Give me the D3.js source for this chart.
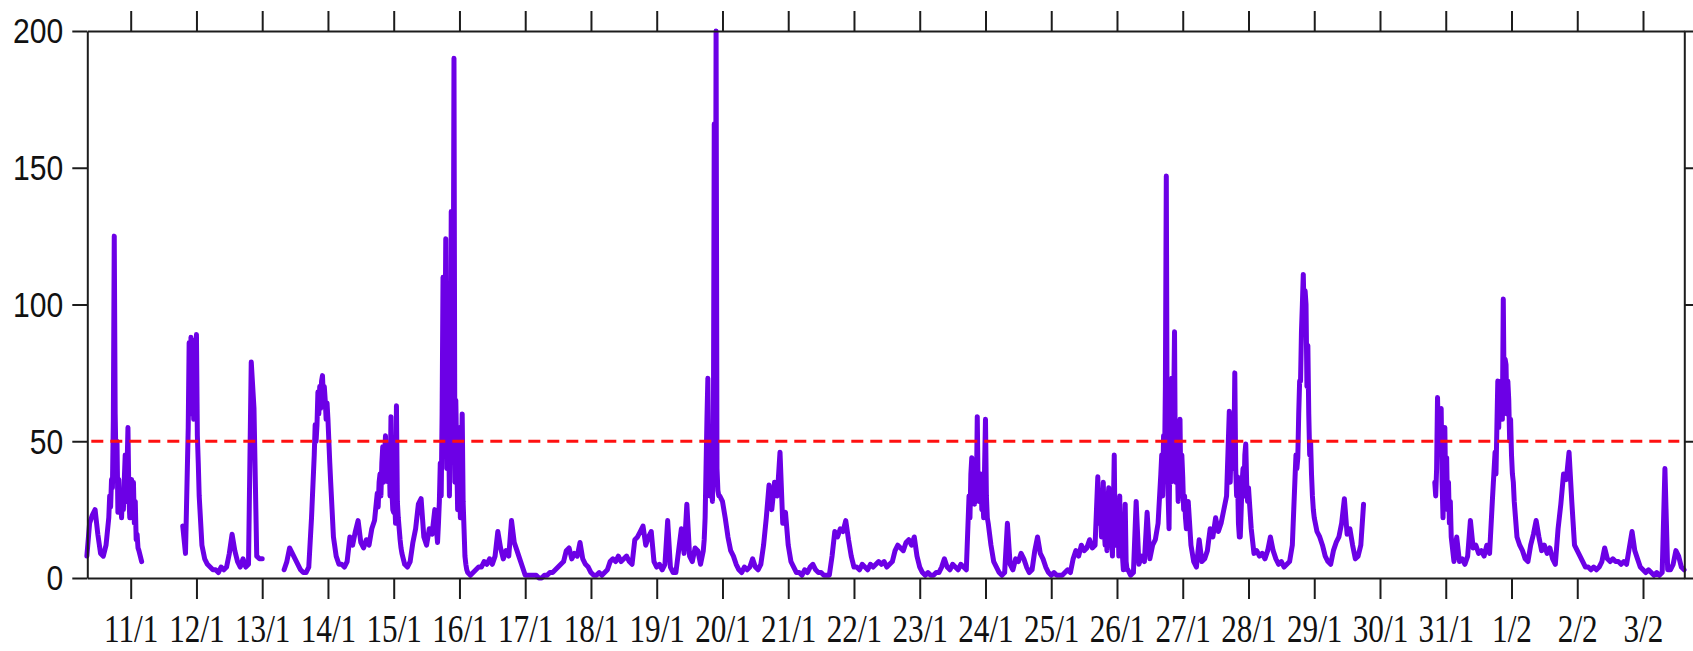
<!DOCTYPE html>
<html>
<head>
<meta charset="utf-8">
<script src="https://cdn.jsdelivr.net/npm/d3@7"></script>
<style>
  html, body { margin: 0; padding: 0; background: #fff; }
  svg { display: block; }
</style>
</head>
<body>
<svg id="chart" width="1693" height="651"></svg>
<script>
// Concentration records. Times are day-of-January (Feb 1 = day 32).
// Each record run is made of consecutive pieces: hourly values, and
// 20-minute values around the episodes.

// run 1: from 10 Jan 08:00
const r1Start = 10 + 8 / 24;
const r1a = [8, 20, 23, 25, 16, 9, 8, 12];
const r1b = [22, 30, 26, 36, 33, 58, 125, 60, 40, 50, 24, 36, 24, 30, 22, 31, 25, 36,
             45, 28, 40, 55, 30, 22, 22, 36, 24, 35, 20, 28, 14, 16, 11];
const r1c = [10, 6];

// run 2: from 11 Jan 19:00
const r2Start = 11 + 19 / 24;
const r2a = [19, 9];
const r2b = [55, 86, 60, 88, 70, 87, 58, 86, 65, 89, 52, 42];
const r2c = [30, 12, 7, 5, 4, 3, 3, 2, 4, 3, 4, 9, 16, 10, 6, 4, 7, 4, 5, 79, 62, 8, 7, 7];

// run 3: from 13 Jan 08:00
const r3Start = 13 + 8 / 24;
const r3a = [3, 6, 11, 9, 7, 5, 3, 2, 2, 4, 22];
const r3b = [45, 56, 50, 56, 68, 60, 70, 62, 72, 74, 66, 70, 65, 58, 64, 58, 50, 42];
const r3c = [35, 15, 8, 5, 5, 4, 6, 15, 12, 17, 21, 13, 11, 14, 12, 18, 21];
const r3d = [31, 26, 35, 38, 30, 42, 48, 35, 45, 52, 38, 49, 35, 44, 30, 59, 32, 25,
             24, 30, 20, 63, 28, 22, 18, 14, 11];
const r3e = [9, 5, 4, 6, 13, 18, 27, 29, 15, 12, 18, 16, 25];
const r3f = [13, 20, 28, 42, 30, 60, 110, 45, 75, 124, 40, 90, 60, 30, 55, 134, 50, 70,
             190, 35, 65, 45, 25, 55, 40, 22, 38, 60, 28, 18, 8, 5, 3];
const r3g = [2, 1, 2,
             3, 4, 4, 6, 5, 7, 5, 8, 17, 11,
             7, 10, 8, 21, 13, 10, 7, 4, 1, 1,
             1, 1, 1, 0, 0, 1, 1, 2, 2, 3,
             4, 5, 6, 10, 11, 7, 9, 8, 13, 7,
             5, 4, 2, 1, 1, 2, 1, 2, 3, 6,
             7, 6, 8, 6, 7, 8, 6, 5, 14, 15,
             17, 19, 12, 15, 17, 6, 4, 5, 3, 5,
             21, 4, 2, 2, 10, 18, 9, 27, 8, 6,
             11, 10, 5];
const r3h = [10, 14, 22, 40, 58, 73, 45, 30, 52, 35, 28, 45, 166, 45, 200, 40, 32, 30];
const r3i = [30,
             28, 22, 15, 10, 8, 5, 3, 2, 4, 3,
             4, 7, 4, 3, 5, 12, 22, 34, 25, 35,
             30, 46, 20, 24, 12, 6, 4, 2, 2, 1,
             3, 2, 4, 5, 3, 2, 2, 1, 1, 1,
             8, 17, 15, 18, 17, 21, 14, 8, 4, 4,
             3, 5, 4, 3, 5, 4, 5, 6, 5, 6,
             4, 5, 6, 10, 12, 11, 10, 13, 14, 12,
             15, 8, 4, 2, 1, 2, 1, 1, 2, 2,
             4, 7, 4, 3, 5, 4, 3, 5, 4, 3];
const r3j = [30, 22, 38, 44, 28, 35, 27, 40, 30, 59, 32, 28, 28, 38, 25, 30, 22, 40, 58, 30, 22];
const r3k = [20, 12, 6,
             4, 2, 1, 2, 20, 5, 3, 7, 6, 9,
             7, 4, 2, 3, 10, 15, 9, 7, 4, 2,
             1, 2, 1, 1, 1, 2, 3, 2, 7, 10,
             8, 12, 10, 11, 14, 11, 12];
const r3l = [37, 20, 30, 30, 15, 26, 35, 18, 12, 22, 10, 28, 33, 14, 20, 15, 8, 25,
             45, 12, 20, 12, 25, 8, 30, 10, 15, 8, 3, 12, 27, 6, 3];
const r3m = [3, 1, 2, 28, 5, 8, 6, 24, 7, 12, 14, 20];
const r3n = [38, 45, 30, 52, 40, 70, 147, 45, 30, 18, 50, 35, 73, 40, 60, 90, 35, 55,
             45, 28, 50, 58, 30, 45, 37, 25, 30, 22, 18, 25];
const r3o = [28, 12, 6, 4, 14, 6, 7, 10, 18, 15, 22, 17, 20, 25, 30];
const r3p = [61, 35, 50, 40, 60, 45, 75, 40, 30, 37, 20, 15, 15, 25, 35, 40, 30, 45, 49, 35, 28];
const r3q = [33, 18, 9, 10, 8, 9, 7, 10, 15, 10, 7, 5, 6, 4, 5, 6, 12];
const r3r = [37, 45, 40, 44, 60, 72, 72, 90, 100, 111, 95, 105, 100, 70, 85, 60, 45, 50, 38, 30, 25];
const r3s = [22, 17, 15, 12, 8, 6, 5, 10, 13, 15, 20, 29, 16, 18, 12, 7, 8, 12, 27];

// run 4: from 30 Jan 20:00
const r4Start = 30 + 20 / 24;
const r4a = [35, 30, 40, 66, 50, 60, 58, 62, 35, 22, 40, 55, 30, 44, 25, 35, 20, 28];
const r4b = [15, 6, 15, 6, 7, 5, 8, 21, 11, 12, 9, 10, 8, 12, 9, 28];
const r4c = [46, 38, 55, 72, 55, 70, 62, 72, 58, 102, 65, 80, 78, 60, 72, 65, 50, 58, 45, 38, 35];
const r4d = [28, 15, 12, 10, 7, 6, 12, 16, 21, 15, 10, 12, 9, 11, 7, 5, 18, 27, 38, 36, 46,
             28, 12, 10, 8, 6, 4, 4, 3, 4, 3, 4, 6, 11, 7, 6, 7, 6, 6, 5, 6, 5, 11, 17, 10,
             7, 4, 3, 2, 3, 2, 1, 2, 1, 2, 40, 3, 3, 5, 10, 8, 4, 3];

// Axis ticks and labels
const dayTicks  = [11, 12, 13, 14, 15, 16, 17, 18, 19, 20, 21, 22, 23, 24, 25, 26, 27, 28, 29, 30, 31, 32, 33, 34];
const dayLabels = ["11/1", "12/1", "13/1", "14/1", "15/1", "16/1", "17/1", "18/1", "19/1", "20/1",
                   "21/1", "22/1", "23/1", "24/1", "25/1", "26/1", "27/1", "28/1", "29/1", "30/1",
                   "31/1", "1/2", "2/2", "3/2"];
const yTicks = [0, 50, 100, 150, 200];
const limitValue = 50;

// [interval in minutes, values]
const H = 60, F = 20;
const records = [
  { start: r1Start, pieces: [[H, r1a], [F, r1b], [H, r1c]] },
  { start: r2Start, pieces: [[H, r2a], [F, r2b], [H, r2c]] },
  { start: r3Start, pieces: [[H, r3a], [F, r3b], [H, r3c], [F, r3d], [H, r3e], [F, r3f], [H, r3g],
                             [F, r3h], [H, r3i], [F, r3j], [H, r3k], [F, r3l], [H, r3m], [F, r3n],
                             [H, r3o], [F, r3p], [H, r3q], [F, r3r], [H, r3s]] },
  { start: r4Start, pieces: [[F, r4a], [H, r4b], [F, r4c], [H, r4d]] }
];

function toPoints(rec) {
  const pts = [];
  let t = rec.start;
  for (const [minutes, vals] of rec.pieces) {
    for (const v of vals) { pts.push({ t, v }); t += minutes / 1440; }
  }
  return pts;
}
const runs = records.map(toPoints);

const svg = d3.select("#chart");
const x = d3.scaleLinear().domain([10.34, 34.628]).range([87.3, 1684.3]);
const y = d3.scaleLinear().domain([0, 200]).range([578, 31]);

const line = d3.line().x(d => x(d.t)).y(d => y(d.v));

svg.append("g")
  .selectAll("path")
  .data(runs)
  .join("path")
  .attr("d", line)
  .attr("fill", "none")
  .attr("stroke", "#6c00e6")
  .attr("stroke-width", 5)
  .attr("stroke-linejoin", "round")
  .attr("stroke-linecap", "round");

// threshold line
svg.append("line")
  .attr("x1", x.range()[0] + 4)
  .attr("x2", x.range()[1] - 5)
  .attr("y1", y(limitValue))
  .attr("y2", y(limitValue))
  .attr("stroke", "#ff1010")
  .attr("stroke-width", 3)
  .attr("stroke-dasharray", "12 7");

const axisColor = "#1c1c1c";
function styleAxis(g) {
  g.attr("font-size", null).attr("font-family", null);
  g.selectAll("path.domain").attr("stroke", axisColor).attr("stroke-width", 2);
  g.selectAll(".tick line").attr("stroke", axisColor).attr("stroke-width", 2);
  g.selectAll("text").attr("fill", "#111");
}

// bottom axis with date labels
const sxBottom = 0.80;
svg.append("g")
  .attr("transform", `translate(0,${y(0)})`)
  .call(d3.axisBottom(x).tickValues(dayTicks).tickFormat((d, i) => dayLabels[i]).tickSize(21).tickSizeOuter(0))
  .call(styleAxis)
  .call(g => g.selectAll("text")
    .attr("font-family", "'Liberation Serif', 'Times New Roman', serif")
    .attr("font-size", 39)
    .attr("y", 64)
    .attr("dy", null)
    .attr("transform", `scale(${sxBottom},1)`));

// top axis, ticks only
svg.append("g")
  .attr("transform", `translate(0,${y(200)})`)
  .call(d3.axisTop(x).tickValues(dayTicks).tickFormat("").tickSize(20).tickSizeOuter(0))
  .call(styleAxis);

// left axis with values
const sxLeft = 0.86;
svg.append("g")
  .attr("transform", `translate(${x.range()[0]},0)`)
  .call(d3.axisLeft(y).tickValues(yTicks).tickSize(15).tickPadding(9).tickSizeOuter(0))
  .call(styleAxis)
  .call(g => g.selectAll("text")
    .attr("font-family", "'Liberation Sans', Arial, sans-serif")
    .attr("font-size", 35)
    .attr("x", -24 / sxLeft)
    .attr("dy", "0.34em")
    .attr("transform", `scale(${sxLeft},1)`));

// right axis, ticks only
svg.append("g")
  .attr("transform", `translate(${x.range()[1]},0)`)
  .call(d3.axisRight(y).tickValues(yTicks).tickFormat("").tickSize(15).tickSizeOuter(0))
  .call(styleAxis);
</script>
</body>
</html>
